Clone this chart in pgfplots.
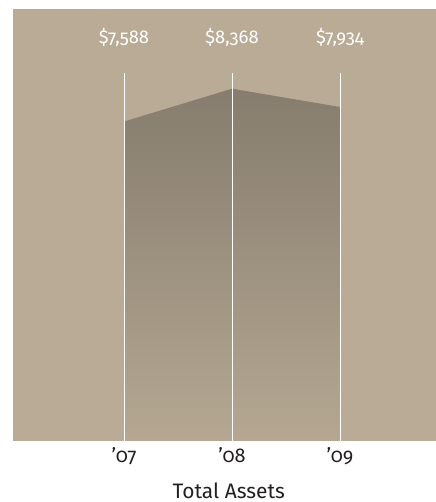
\documentclass[border=0pt]{standalone}
\usepackage{fontspec}
\setmainfont[Numbers=OldStyle]{Fira Sans}
\usepackage{pgfplots}
\pgfplotsset{compat=1.18}

\definecolor{panel}{RGB}{186,171,150}
\definecolor{areatop}{RGB}{134,125,110}
\definecolor{areabot}{RGB}{181,167,146}
\definecolor{ink}{RGB}{35,31,32}

\begin{document}
\begin{tikzpicture}
  \useasboundingbox (0,0) rectangle (436bp,502bp);
  \begin{axis}[
      at={(13bp,61bp)}, anchor=south west,
      width=423bp, height=432bp, scale only axis,
      xmin=-1.028, xmax=2.889,
      ymin=0, ymax=10261,
      axis line style={draw=none},
      axis background/.style={fill=panel},
      xtick={0,1,2},
      xticklabels={’07,’08,’09},
      ytick=\empty,
      major tick length=0pt,
      xticklabel style={anchor=base, yshift=-22bp, font=\fontsize{20}{22}\selectfont, text=ink},
      xlabel={Total Assets},
      xlabel style={at={(axis cs:0.97,0)}, anchor=base, yshift=-57bp, font=\fontsize{21}{24}\selectfont, text=ink},
      clip=false
  ]
    % total assets area
    \addplot[draw=none, top color=areatop, bottom color=areabot]
      coordinates {(0,7588) (1,8368) (2,7934)} \closedcycle;
    % white vertical rules
    \addplot[white, line width=0.9pt, ycomb, mark=none]
      coordinates {(0,8741) (1,8741) (2,8741)};
    % value labels
    \addplot[draw=none, mark=none, nodes near coords, point meta=explicit symbolic,
      every node near coord/.style={anchor=base, text=white, font=\fontsize{18.5}{20}\selectfont}]
      coordinates {(0,9430) [\$7,588] (1,9430) [\$8,368] (2,9430) [\$7,934]};
  \end{axis}
\end{tikzpicture}
\end{document}
